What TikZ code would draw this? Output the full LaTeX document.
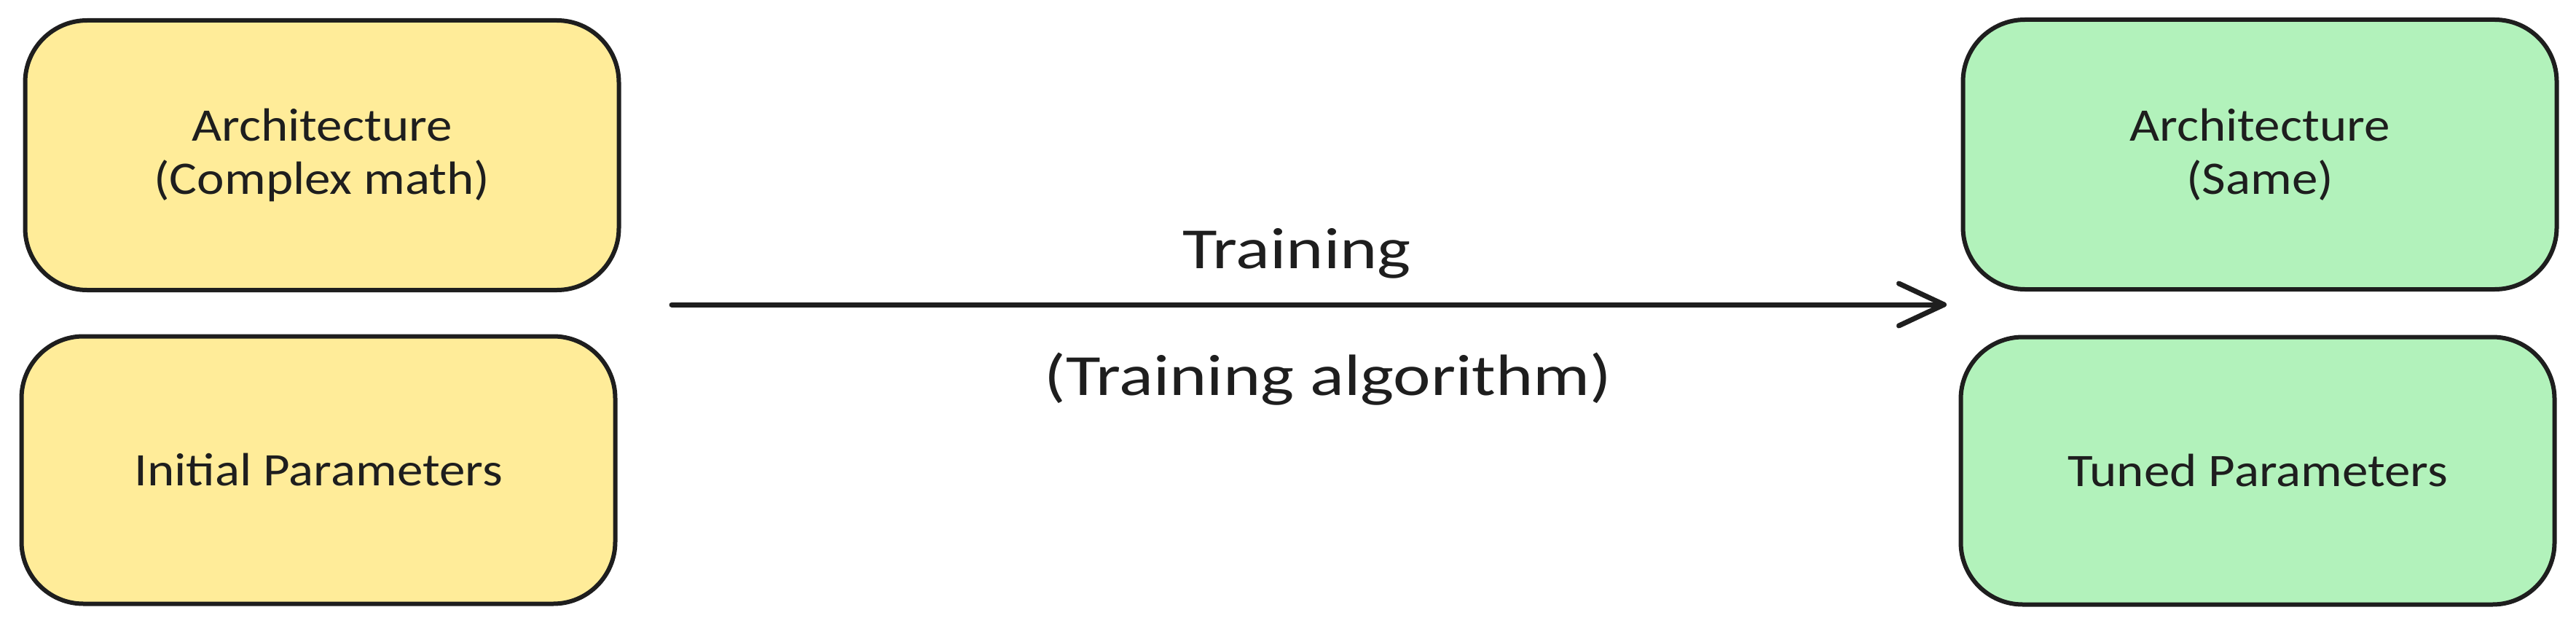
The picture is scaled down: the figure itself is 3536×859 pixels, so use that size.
\documentclass[tikz,border=0pt]{standalone}
\usepackage{fontspec}
\setmainfont{Carlito}
\newfontfamily\boxfont{Carlito}[FakeStretch=1.11]
\newfontfamily\lblfont{Carlito}[FakeStretch=1.22]
\usetikzlibrary{arrows.meta}
\definecolor{inkc}{HTML}{1E1E1E}
\definecolor{yellowfill}{HTML}{FFEC99}
\definecolor{greenfill}{HTML}{B2F2BB}
\tikzset{
  boxbase/.style={draw=inkc, line width=6pt, rounded corners=85pt, rectangle,
    minimum width=815pt, minimum height=370pt, align=center, text=inkc,
    font=\boxfont\fontsize{64}{73}\selectfont, inner sep=0pt},
  ybox/.style={boxbase, fill=yellowfill},
  gbox/.style={boxbase, fill=greenfill},
  lbl/.style={text=inkc, font=\lblfont\fontsize{80}{92}\selectfont, inner sep=0pt, anchor=base},
  flow/.style={draw=inkc, line width=7pt, line cap=round,
    -{Straight Barb[length=62pt, width=58pt, line width=7pt, round]}}
}
\begin{document}
\begin{tikzpicture}[x=1pt,y=-1pt]
\useasboundingbox (0,0) rectangle (3536,859);
\node[ybox] (archL) at (442,213) {Architecture\\(Complex math)};
\node[ybox, minimum height=367pt] (paramL) at (437,645) {Initial Parameters};
\node[gbox] (archR) at (3102,212) {Architecture\\(Same)};
\node[gbox, minimum height=367pt] (paramR) at (3099,646) {Tuned Parameters};
\coordinate (a0) at (922,418);
\coordinate (a1) at (2672,418);
\draw[flow] (a0) -- (a1);
\node[lbl] (train) at (1780,368) {Training};
\node[lbl] (algo) at (1823,542) {(Training algorithm)};
\end{tikzpicture}
\end{document}
